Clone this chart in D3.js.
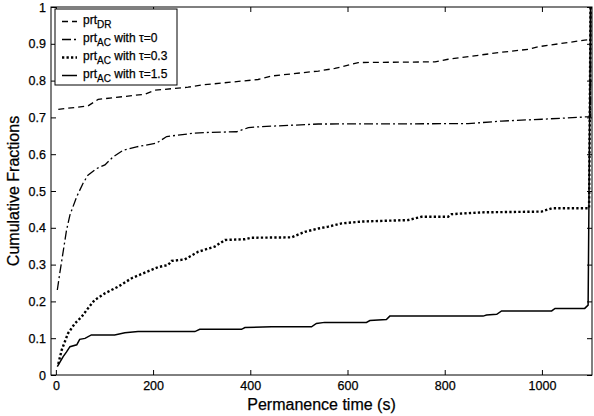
<!DOCTYPE html>
<html>
<head>
<meta charset="utf-8">
<script src="https://cdn.jsdelivr.net/npm/d3@7"></script>
<style>
  body { margin: 0; background: #fff; }
  text { font-family: "Liberation Sans", Arial, sans-serif; fill: #000; stroke: #000; stroke-width: 0.25px; }
</style>
</head>
<body>
<div id="chart"></div>
<script>
const WIDTH = 594;
const HEIGHT = 416;

// curvas acumuladas
const drX = [5, 66, 87, 183, 204, 272, 300, 416, 444, 540, 574, 622, 780, 807, 876, 917, 972, 992, 1088, 1100, 1100];
const drY = [0.722, 0.731, 0.749, 0.763, 0.774, 0.782, 0.788, 0.803, 0.8125, 0.826, 0.833, 0.849, 0.851, 0.858, 0.870, 0.877, 0.885, 0.892, 0.910, 0.912, 1];

const tau0X = [3, 8, 22, 29, 43, 56, 66, 84, 101, 118, 139, 166, 207, 228, 283, 310, 372, 396, 423, 540, 848, 917, 1000, 1100, 1100];
const tau0Y = [0.231, 0.276, 0.394, 0.435, 0.485, 0.521, 0.543, 0.561, 0.571, 0.593, 0.611, 0.620, 0.630, 0.648, 0.657, 0.659, 0.661, 0.672, 0.675, 0.682, 0.683, 0.690, 0.695, 0.702, 1];

const tau03X = [5, 12, 25, 39, 53, 66, 80, 101, 128, 156, 183, 210, 231, 238, 265, 293, 327, 348, 389, 403, 485, 512, 540, 560, 588, 629, 725, 752, 807, 814, 876, 999, 1020, 1097, 1100];
const tau03Y = [0.03, 0.068, 0.113, 0.140, 0.158, 0.181, 0.204, 0.222, 0.240, 0.263, 0.278, 0.293, 0.299, 0.310, 0.314, 0.335, 0.349, 0.367, 0.369, 0.373, 0.374, 0.389, 0.398, 0.403, 0.412, 0.417, 0.421, 0.430, 0.430, 0.437, 0.442, 0.444, 0.453, 0.453, 1];

const tau15X = [3, 15, 22, 29, 43, 49, 60, 73, 121, 142, 169, 286, 296, 382, 389, 444, 526, 536, 553, 639, 646, 680, 687, 879, 886, 907, 917, 1020, 1027, 1088, 1095, 1100];
const tau15Y = [0.023, 0.05, 0.063, 0.077, 0.082, 0.097, 0.0995, 0.109, 0.109, 0.115, 0.118, 0.118, 0.124, 0.124, 0.129, 0.131, 0.131, 0.140, 0.143, 0.143, 0.148, 0.151, 0.160, 0.160, 0.163, 0.165, 0.174, 0.174, 0.181, 0.181, 0.190, 1];

const xTicks = [0, 200, 400, 600, 800, 1000];
const yTicks = [0, 0.1, 0.2, 0.3, 0.4, 0.5, 0.6, 0.7, 0.8, 0.9, 1];

const series = [
  { sub: "DR", rest: "", xs: drX, ys: drY, dash: "6,4", width: 1.3 },
  { sub: "AC", rest: " with \u03c4=0", xs: tau0X, ys: tau0Y, dash: "9,3,2,3", width: 1.3 },
  { sub: "AC", rest: " with \u03c4=0.3", xs: tau03X, ys: tau03Y, dash: "2.3,2.2", width: 2.4 },
  { sub: "AC", rest: " with \u03c4=1.5", xs: tau15X, ys: tau15Y, dash: null, width: 1.5 }
];

const svg = d3.select("#chart").append("svg")
    .attr("width", WIDTH)
    .attr("height", HEIGHT);

const x = d3.scaleLinear().domain([-10, 1103]).range([51, 592]);
const y = d3.scaleLinear().domain([0, 1]).range([375, 7]);

// ejes con ticks hacia adentro
svg.append("g")
    .attr("transform", `translate(0,${y(0)})`)
    .call(d3.axisBottom(x).tickValues(xTicks).tickSize(-5).tickPadding(6).tickFormat(d3.format("d")))
    .call(g => g.select(".domain").remove());

svg.append("g")
    .attr("transform", `translate(0,${y(1)})`)
    .call(d3.axisTop(x).tickValues(xTicks).tickSize(-5).tickFormat(""))
    .call(g => g.select(".domain").remove());

svg.append("g")
    .attr("transform", `translate(${x.range()[0]},0)`)
    .call(d3.axisLeft(y).tickValues(yTicks).tickSize(-5).tickPadding(5).tickFormat(d => d3.format("")(+d.toFixed(1))))
    .call(g => g.select(".domain").remove());

svg.append("g")
    .attr("transform", `translate(${x.range()[1]},0)`)
    .call(d3.axisRight(y).tickValues(yTicks).tickSize(-5).tickFormat(""))
    .call(g => g.select(".domain").remove());

svg.selectAll(".tick text").attr("font-size", "12.5px").attr("font-family", "Liberation Sans, Arial, sans-serif");
svg.selectAll(".tick line").attr("stroke", "#000");

// curvas
const linea = d3.line()
    .x(d => x(d[0]))
    .y(d => y(d[1]));

series.forEach(s => {
    const pts = s.xs.map((v, i) => [v, s.ys[i]]);
    svg.append("path")
        .datum(pts)
        .attr("d", linea)
        .attr("fill", "none")
        .attr("stroke", "#000")
        .attr("stroke-width", s.width)
        .attr("stroke-dasharray", s.dash);
});

// marco
svg.append("rect")
    .attr("x", x.range()[0])
    .attr("y", y(1))
    .attr("width", x.range()[1] - x.range()[0])
    .attr("height", y(0) - y(1))
    .attr("fill", "none")
    .attr("stroke", "#000")
    .attr("stroke-width", 1);

// títulos de ejes
svg.append("text")
    .attr("x", (x.range()[0] + x.range()[1]) / 2)
    .attr("y", 409.5)
    .attr("text-anchor", "middle")
    .attr("font-size", "16px")
    .text("Permanence time (s)");

svg.append("text")
    .attr("transform", `translate(19,${(y(0) + y(1)) / 2}) rotate(-90)`)
    .attr("text-anchor", "middle")
    .attr("font-size", "16px")
    .text("Cumulative Fractions");

// leyenda
const leyenda = svg.append("g");

leyenda.append("rect")
    .attr("x", 55)
    .attr("y", 9)
    .attr("width", 122)
    .attr("height", 76)
    .attr("fill", "#fff")
    .attr("stroke", "#000")
    .attr("stroke-width", 1);

series.forEach((s, i) => {
    const yy = 21.5 + i * 18;
    leyenda.append("line")
        .attr("x1", 62).attr("x2", 77)
        .attr("y1", yy).attr("y2", yy)
        .attr("stroke", "#000")
        .attr("stroke-width", s.width)
        .attr("stroke-dasharray", s.dash);
    const t = leyenda.append("text")
        .attr("x", 83)
        .attr("y", yy + 2)
        .attr("font-size", "12px");
    t.append("tspan").text("prt");
    t.append("tspan").attr("dy", 4).attr("font-size", "10px").text(s.sub);
    t.append("tspan").attr("dy", -4).text(s.rest);
});
</script>
</body>
</html>
